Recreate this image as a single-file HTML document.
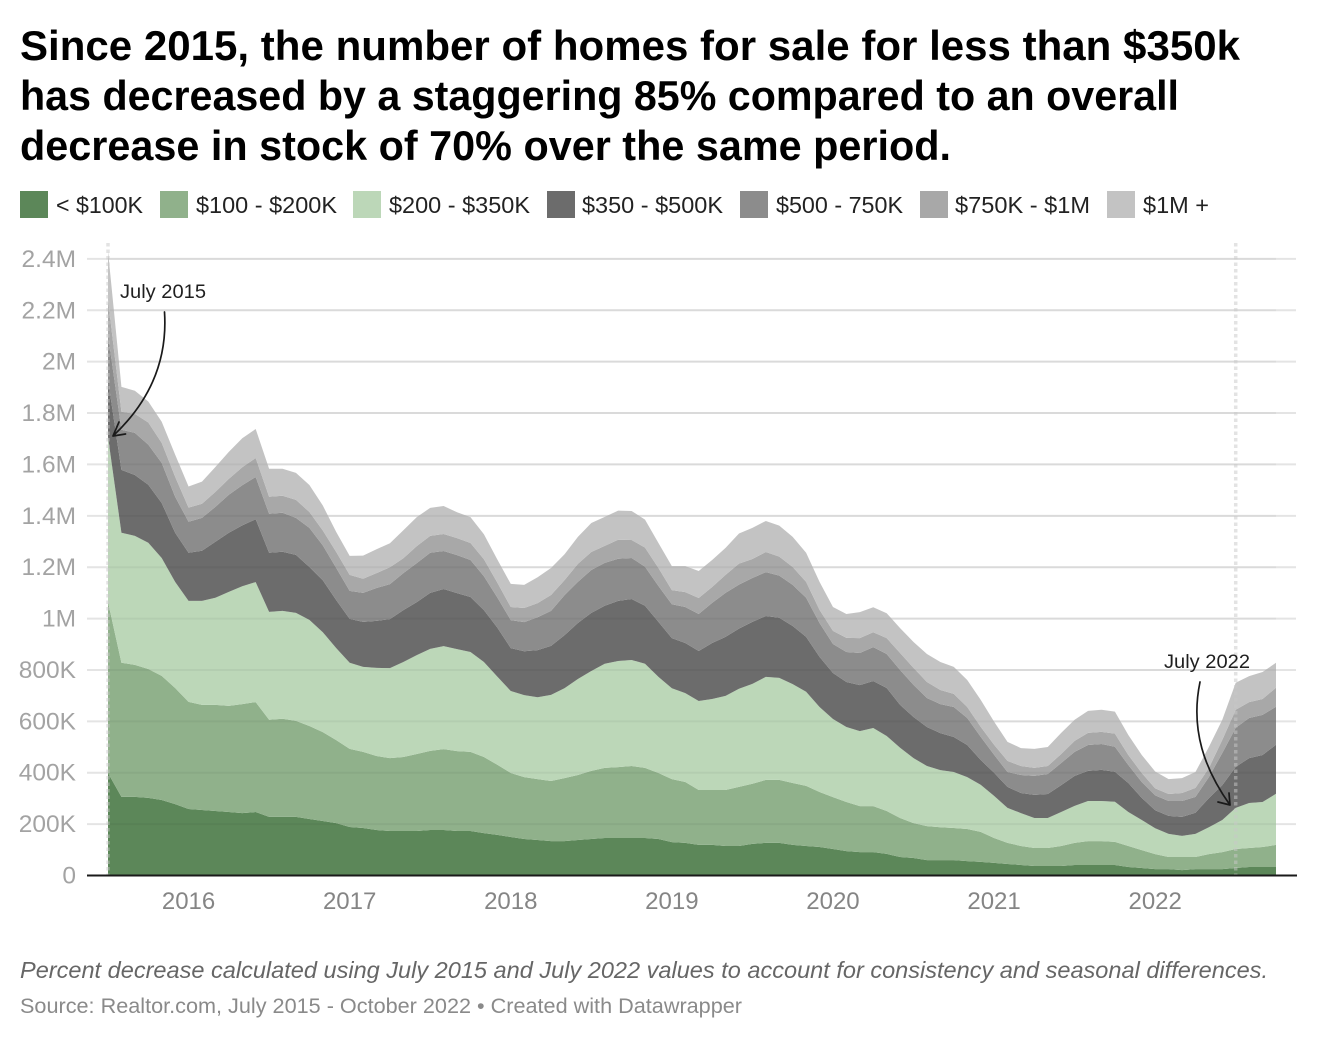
<!DOCTYPE html>
<html lang="en">
<head>
<meta charset="utf-8">
<title>Homes for sale by price band</title>
<style>
html,body{margin:0;padding:0;background:#fff;}
svg{display:block;font-family:"Liberation Sans",Arial,sans-serif;}
.title{font-size:41.5px;font-weight:700;fill:#000;}
.leg{font-size:23.5px;fill:#222;}
.ytick{font-size:24.5px;fill:#a3a3a3;text-anchor:end;}
.xtick{font-size:24px;fill:#858585;text-anchor:middle;}
.anno{font-size:19.5px;fill:#1f1f1f;}
.note{font-size:23.5px;font-style:italic;fill:#666;}
.src{font-size:21.5px;fill:#8a8a8a;}
</style>
</head>
<body>
<svg id="chart" width="1320" height="1040" viewBox="0 0 1320 1040" xmlns="http://www.w3.org/2000/svg">
  <rect x="0" y="0" width="1320" height="1040" fill="#fff"/>
  <g>
    <text class="title" x="20" y="60" textLength="1220" lengthAdjust="spacingAndGlyphs">Since 2015, the number of homes for sale for less than $350k</text>
    <text class="title" x="20" y="110" textLength="1159" lengthAdjust="spacingAndGlyphs">has decreased by a staggering 85% compared to an overall</text>
    <text class="title" x="20" y="160" textLength="931" lengthAdjust="spacingAndGlyphs">decrease in stock of 70% over the same period.</text>
  </g>
  <g>
    <g><rect x="20" y="191" width="28" height="27" fill="#5c8759"/><text class="leg" x="56" y="213" textLength="87" lengthAdjust="spacingAndGlyphs">&lt; $100K</text></g>
    <g><rect x="160" y="191" width="28" height="27" fill="#90b18b"/><text class="leg" x="196" y="213" textLength="141" lengthAdjust="spacingAndGlyphs">$100 - $200K</text></g>
    <g><rect x="353" y="191" width="28" height="27" fill="#bcd7b8"/><text class="leg" x="389" y="213" textLength="141" lengthAdjust="spacingAndGlyphs">$200 - $350K</text></g>
    <g><rect x="547" y="191" width="28" height="27" fill="#6c6c6c"/><text class="leg" x="582" y="213" textLength="141" lengthAdjust="spacingAndGlyphs">$350 - $500K</text></g>
    <g><rect x="740" y="191" width="28" height="27" fill="#8c8c8c"/><text class="leg" x="776" y="213" textLength="127" lengthAdjust="spacingAndGlyphs">$500 - 750K</text></g>
    <g><rect x="920" y="191" width="28" height="27" fill="#a8a8a8"/><text class="leg" x="955" y="213" textLength="135" lengthAdjust="spacingAndGlyphs">$750K - $1M</text></g>
    <g><rect x="1107" y="191" width="28" height="27" fill="#c3c3c3"/><text class="leg" x="1143" y="213" textLength="66" lengthAdjust="spacingAndGlyphs">$1M +</text></g>
  </g>
  <g id="grid"></g>
  <g id="areas"></g>
  <g id="gridover"></g>
  <g id="ylabels"></g>
  <g id="xlabels"></g>
  <g id="markers"></g>
  <line x1="87" x2="1297" y1="875.5" y2="875.5" stroke="#1a1a1a" stroke-width="2"/>
  <g>
    <text class="anno" x="120" y="298" textLength="86" lengthAdjust="spacingAndGlyphs">July 2015</text>
    <path d="M164.5 312 C168 365 146 405 113 436 M119 422 L113 436 L125.500 434" fill="none" stroke="#1a1a1a" stroke-width="1.700" stroke-linecap="round" stroke-linejoin="round"/>
  </g>
  <g>
    <text class="anno" x="1164" y="668" textLength="86" lengthAdjust="spacingAndGlyphs">July 2022</text>
    <path d="M1200 682 C1190 730 1205 770 1230 805 M1218 802 L1230 805 L1229 793" fill="none" stroke="#1a1a1a" stroke-width="1.700" stroke-linecap="round" stroke-linejoin="round"/>
  </g>
  <text class="note" x="20" y="978" textLength="1248" lengthAdjust="spacingAndGlyphs">Percent decrease calculated using July 2015 and July 2022 values to account for consistency and seasonal differences.</text>
  <text class="src" x="20" y="1013" textLength="722" lengthAdjust="spacingAndGlyphs">Source: Realtor.com, July 2015 - October 2022 • Created with Datawrapper</text>
</svg>
<script>
const months = ["2015-07","2015-08","2015-09","2015-10","2015-11","2015-12",
"2016-01","2016-02","2016-03","2016-04","2016-05","2016-06","2016-07","2016-08","2016-09","2016-10","2016-11","2016-12",
"2017-01","2017-02","2017-03","2017-04","2017-05","2017-06","2017-07","2017-08","2017-09","2017-10","2017-11","2017-12",
"2018-01","2018-02","2018-03","2018-04","2018-05","2018-06","2018-07","2018-08","2018-09","2018-10","2018-11","2018-12",
"2019-01","2019-02","2019-03","2019-04","2019-05","2019-06","2019-07","2019-08","2019-09","2019-10","2019-11","2019-12",
"2020-01","2020-02","2020-03","2020-04","2020-05","2020-06","2020-07","2020-08","2020-09","2020-10","2020-11","2020-12",
"2021-01","2021-02","2021-03","2021-04","2021-05","2021-06","2021-07","2021-08","2021-09","2021-10","2021-11","2021-12",
"2022-01","2022-02","2022-03","2022-04","2022-05","2022-06","2022-07","2022-08","2022-09","2022-10"];

// Listings per price band, in thousands
const under100k = [399,306,306,302,294,278,259,255,251,247,243,247,228,228,228,220,212,204,189,185,177,173,173,173,177,177,173,173,165,158,150,142,138,134,134,138,142,146,146,146,146,142,130,127,119,119,115,115,123,127,127,119,115,111,103,95,91,91,84,72,68,60,60,60,56,53,49,45,41,37,37,37,41,41,41,41,33,29,25,25,21,25,25,25,29,33,33,33];
const from100to200k = [666,522,514,502,483,452,417,409,413,413,424,428,378,382,374,362,346,323,304,296,288,284,288,300,308,315,311,308,296,273,249,241,237,234,245,253,265,273,276,280,273,257,245,237,214,214,218,230,234,245,245,241,234,214,202,191,179,179,167,152,136,132,128,125,125,117,97,82,74,70,70,78,86,93,93,90,82,70,58,47,51,47,58,66,74,74,78,86];
const from200to350k = [642,506,502,491,459,413,393,405,417,444,459,467,420,420,420,413,389,358,335,331,343,350,370,385,397,401,397,389,370,343,319,319,319,335,350,374,389,405,413,413,405,374,354,346,346,354,366,382,389,401,397,385,366,331,304,292,292,304,292,273,253,234,222,218,202,183,164,136,128,117,117,132,144,156,156,156,132,117,101,90,82,90,105,125,160,175,175,199];
const from350to500k = [222,245,237,226,214,191,187,195,218,230,237,245,230,230,226,206,202,187,171,175,183,191,202,206,218,222,218,214,202,191,167,171,183,191,206,218,226,226,234,237,226,214,195,195,195,218,230,234,241,237,234,226,214,195,179,175,179,183,187,167,160,152,144,136,125,97,90,82,78,90,93,105,117,117,121,117,113,86,70,70,74,82,113,136,160,175,183,191];
const from500to750k = [175,156,164,156,156,140,121,128,136,148,156,164,152,152,144,152,136,125,109,113,128,136,144,152,156,148,148,144,132,117,109,113,128,136,156,160,167,167,164,160,152,140,132,140,144,156,171,171,171,171,164,160,152,132,113,117,125,132,132,136,125,113,113,117,105,90,70,58,70,74,78,86,93,101,101,97,70,62,58,58,62,62,82,125,152,156,156,148];
const from750kto1m = [136,70,74,86,78,78,55,55,58,62,70,74,66,66,70,62,58,62,62,55,58,66,58,66,66,66,66,66,66,58,51,55,55,62,58,70,70,66,74,70,74,70,55,58,62,62,70,82,74,78,74,70,62,51,51,55,58,58,62,66,66,62,55,51,43,39,39,43,35,31,31,35,43,47,47,51,39,35,27,27,31,35,35,51,70,62,62,74];
const over1m = [191,97,90,82,82,86,82,86,97,105,113,113,109,105,105,105,97,78,74,90,93,93,109,113,109,109,101,101,97,90,90,90,101,105,101,105,113,113,113,113,109,97,93,101,105,105,105,117,121,121,121,117,113,109,93,93,101,97,97,97,101,109,109,105,105,105,90,74,70,74,74,82,82,86,86,86,78,70,66,58,58,62,82,78,105,101,105,97];

const seriesNames = ["under-100k","100-200k","200-350k","350-500k","500-750k","750k-1m","1m-plus"];
const seriesColors = ["#5c8759","#90b18b","#bcd7b8","#6c6c6c","#8c8c8c","#a8a8a8","#c3c3c3"];
const seriesValues = [under100k,from100to200k,from200to350k,from350to500k,from500to750k,from750kto1m,over1m];

const yTickValues = [0,200,400,600,800,1000,1200,1400,1600,1800,2000,2200,2400];
const yTickLabels = ["0","200K","400K","600K","800K","1M","1.2M","1.4M","1.6M","1.8M","2M","2.2M","2.4M"];
const xTickYears = [2016,2017,2018,2019,2020,2021,2022];
const markerMonths = ["2015-07","2022-07"];

const SVGNS = "http://www.w3.org/2000/svg";
function monthIndex(label){
  const parts = label.split("-");
  return (Number(parts[0]) - 2015) * 12 + Number(parts[1]) - 7;
}
function xScale(label){ return 108 + monthIndex(label) * (1168 / 87); }
function yScale(thousands){ return 875.5 - thousands * (616.6 / 2400); }

const areas = document.getElementById("areas");
const baseline = months.map(function(){ return 0; });
let lower = baseline;
seriesValues.forEach(function(values, s){
  const upper = values.map(function(v, i){ return lower[i] + v; });
  const top = months.map(function(m, i){ return xScale(m).toFixed(2) + "," + yScale(upper[i]).toFixed(2); });
  const bottom = months.map(function(m, i){ return xScale(m).toFixed(2) + "," + yScale(lower[i]).toFixed(2); }).reverse();
  const el = document.createElementNS(SVGNS, "path");
  el.setAttribute("d", "M" + top.join("L") + "L" + bottom.join("L") + "Z");
  el.setAttribute("fill", seriesColors[s]);
  
  
  areas.appendChild(el);
  lower = upper;
});

const grid = document.getElementById("grid");
const gridover = document.getElementById("gridover");
const ylabels = document.getElementById("ylabels");
yTickValues.forEach(function(v, i){
  if (v !== 0) {
    const line = document.createElementNS(SVGNS, "line");
    line.setAttribute("x1", 87);
    line.setAttribute("x2", 1296);
    line.setAttribute("y1", yScale(v));
    line.setAttribute("y2", yScale(v));
    line.setAttribute("stroke", "#e4e4e4");
    line.setAttribute("stroke-width", 2);
    
    
    grid.appendChild(line);
    const over = document.createElementNS(SVGNS, "line");
    over.setAttribute("x1", 108);
    over.setAttribute("x2", 1276);
    over.setAttribute("y1", yScale(v));
    over.setAttribute("y2", yScale(v));
    over.setAttribute("stroke", "#000");
    over.setAttribute("stroke-opacity", "0.045");
    over.setAttribute("stroke-width", 2);
    
    
    gridover.appendChild(over);
  }
  const label = document.createElementNS(SVGNS, "text");
  label.setAttribute("class", "ytick");
  label.setAttribute("x", 76);
  label.setAttribute("y", yScale(v) + 8);
  label.textContent = yTickLabels[i];
  
  
  ylabels.appendChild(label);
});

const xlabels = document.getElementById("xlabels");
xTickYears.forEach(function(year){
  const label = document.createElementNS(SVGNS, "text");
  label.setAttribute("class", "xtick");
  label.setAttribute("x", xScale(year + "-01"));
  label.setAttribute("y", 909);
  label.textContent = String(year);
  
  
  xlabels.appendChild(label);
});

const markers = document.getElementById("markers");
markerMonths.forEach(function(m){
  const line = document.createElementNS(SVGNS, "line");
  line.setAttribute("x1", xScale(m));
  line.setAttribute("x2", xScale(m));
  line.setAttribute("y1", 243);
  line.setAttribute("y2", 875);
  line.setAttribute("stroke", "#c8c8c8");
  line.setAttribute("stroke-opacity", "0.5");
  line.setAttribute("stroke-width", 3.5);
  line.setAttribute("stroke-dasharray", "3.500 3");
  
  
  markers.appendChild(line);
});
</script>
</body>
</html>
